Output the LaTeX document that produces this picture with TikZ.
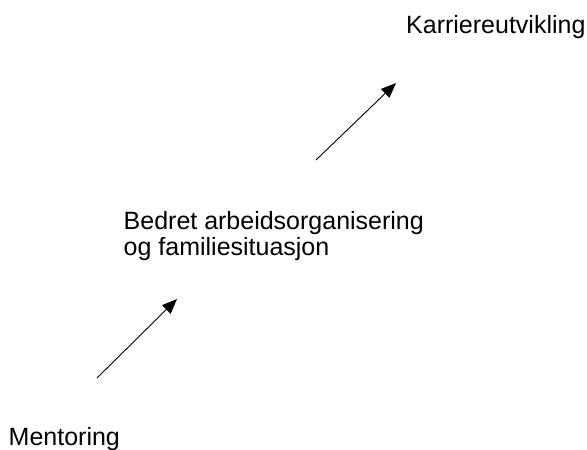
\documentclass[tikz,border=0pt]{standalone}
\usepackage{fontspec}
\setmainfont{Liberation Sans}
\usetikzlibrary{arrows.meta}
\begin{document}
\begin{tikzpicture}[x=1pt,y=-1pt,
  lbl/.style={anchor=base west,inner sep=0pt,font=\fontsize{25}{25.7}\selectfont,align=left},
  arr/.style={line width=0.9pt,-{Triangle[length=15pt,width=12pt]}}]
\useasboundingbox[fill=white] (0,0) rectangle (587,450);
\node[lbl] (k) at (406,33.5) {Karriereutvikling};
\node[lbl] (b) at (123.5,255) {Bedret arbeidsorganisering\\og familiesituasjon};
\node[lbl] (m) at (8.5,445.5) {Mentoring};
\coordinate (a1s) at (316,160);
\coordinate (a1e) at (396,83);
\coordinate (a2s) at (97,378);
\coordinate (a2e) at (177,299);
\draw[arr] (a1s) -- (a1e);
\draw[arr] (a2s) -- (a2e);
\end{tikzpicture}
\end{document}
